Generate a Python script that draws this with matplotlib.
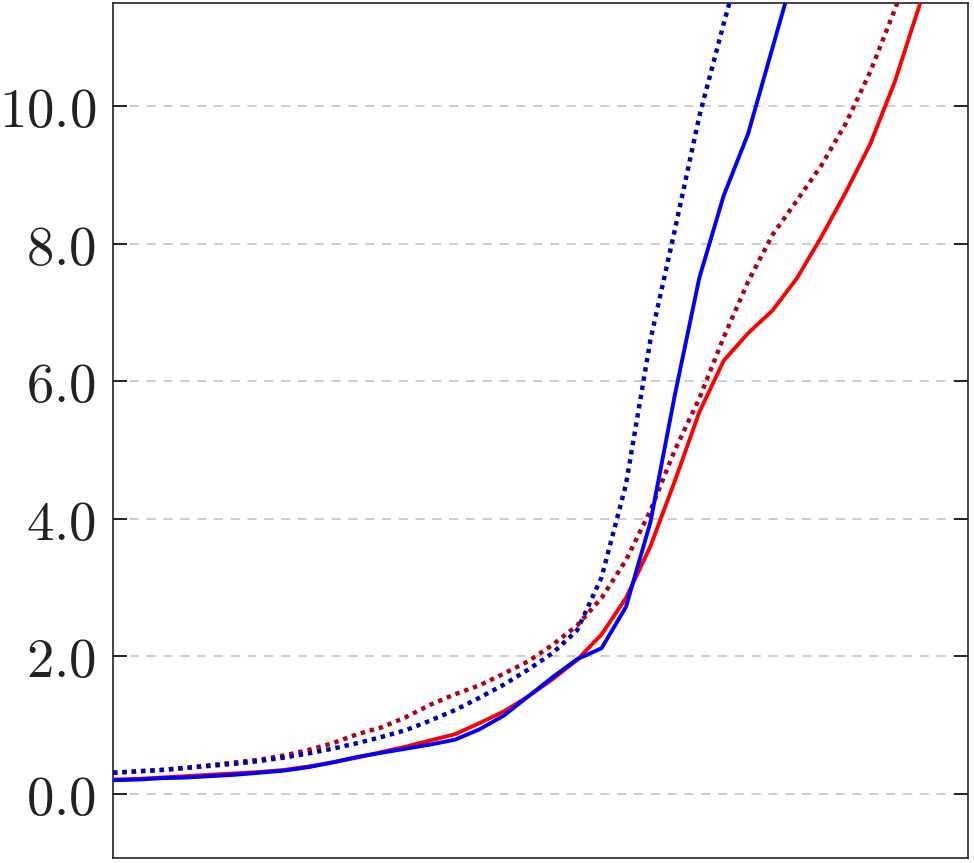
import numpy as np
import matplotlib
matplotlib.use("Agg")
import matplotlib.pyplot as plt
from matplotlib.ticker import FuncFormatter

plt.rcParams["mathtext.fontset"] = "cm"

# sample index along the x axis (no labels on the reference)
x = np.arange(36)

red_solid = [0.21, 0.22, 0.24, 0.26, 0.28, 0.30, 0.32, 0.35, 0.40, 0.46, 0.53, 0.61,
             0.69, 0.78, 0.87, 1.03, 1.20, 1.42, 1.67, 1.95, 2.32, 2.85, 3.60, 4.55,
             5.55, 6.30, 6.70, 7.03, 7.50, 8.10, 8.75, 9.45, 10.35, 11.45, 12.60, 13.80]
blue_solid = [0.20, 0.21, 0.23, 0.24, 0.26, 0.28, 0.31, 0.34, 0.39, 0.46, 0.54, 0.60,
              0.66, 0.72, 0.79, 0.94, 1.14, 1.42, 1.70, 1.96, 2.12, 2.72, 3.95, 5.80,
              7.50, 8.70, 9.60, 10.85, 12.10, 13.40, 14.70, 16.00, 17.30, 18.60, 19.90, 21.20]
red_dotted = [0.31, 0.33, 0.35, 0.38, 0.42, 0.46, 0.50, 0.56, 0.64, 0.74, 0.87, 0.97,
              1.12, 1.30, 1.45, 1.58, 1.75, 1.93, 2.17, 2.45, 2.85, 3.40, 4.12, 5.00,
              5.75, 6.64, 7.45, 8.13, 8.63, 9.14, 9.75, 10.50, 11.40, 12.40, 13.40, 14.40]
blue_dotted = [0.31, 0.33, 0.35, 0.38, 0.41, 0.44, 0.48, 0.53, 0.59, 0.66, 0.74, 0.83,
               0.93, 1.07, 1.22, 1.40, 1.59, 1.81, 2.05, 2.38, 3.15, 4.50, 6.60, 8.20,
               9.85, 11.20, 12.50, 13.80, 15.10, 16.40, 17.70, 19.00, 20.30, 21.60, 22.90, 24.20]

y_ticks = [0.0, 2.0, 4.0, 6.0, 8.0, 10.0]

fig = plt.figure(figsize=(9.74, 8.63), dpi=100)
ax = fig.add_axes([0.116, 0.0058, 0.8778, 0.9907])

ax.plot(x, red_solid, color="#ff0000", lw=2.8, zorder=3)
ax.plot(x, red_dotted, color="#b0001c", lw=3.2, linestyle=(0, (1, 1.1)), zorder=3)
ax.plot(x, blue_solid, color="#0000ff", lw=2.8, zorder=4)
ax.plot(x, blue_dotted, color="#0000b4", lw=3.2, linestyle=(0, (1, 1.1)), zorder=4)

ax.set_xlim(0, 35)
ax.set_ylim(-0.93, 11.5)
ax.set_yticks(y_ticks)
ax.yaxis.set_major_formatter(FuncFormatter(lambda v, p: r"$%.1f$" % v))
ax.tick_params(axis="y", which="major", direction="in", length=10, width=1.4,
               labelsize=39.5, pad=12, colors="#222222", right=True, left=True)
ax.tick_params(axis="x", which="both", bottom=False, top=False, labelbottom=False)
ax.yaxis.grid(True, linestyle=(0, (6, 5)), color="#c0c0c0", lw=1.1)
ax.set_axisbelow(True)
for s in ax.spines.values():
    s.set_linewidth(1.2)
    s.set_color("#222222")

fig.savefig("out.png", dpi=100)
